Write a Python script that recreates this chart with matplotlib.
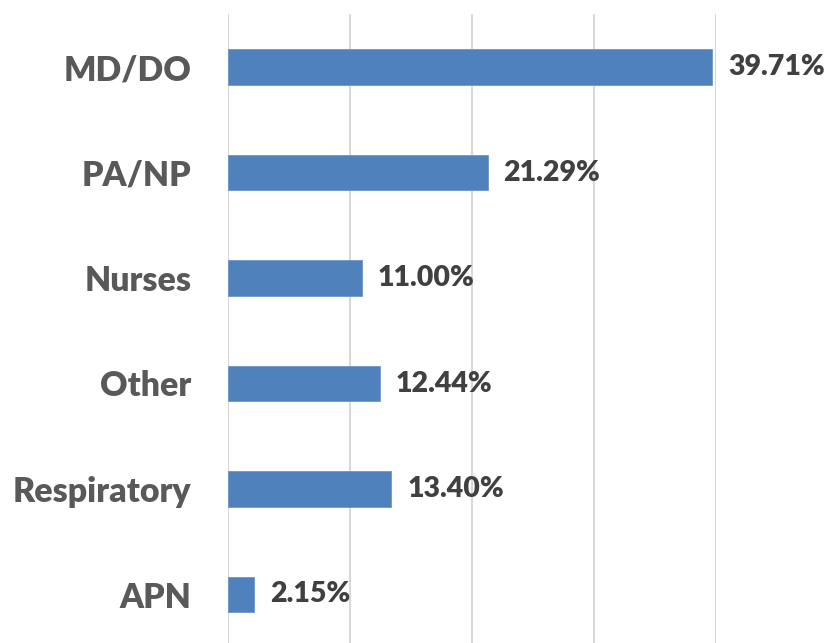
import matplotlib.pyplot as plt

categories = ["MD/DO", "PA/NP", "Nurses", "Other", "Respiratory", "APN"]
values = [39.71, 21.29, 11.00, 12.44, 13.40, 2.15]
labels = ["39.71%", "21.29%", "11.00%", "12.44%", "13.40%", "2.15%"]

plt.rcParams["font.family"] = ["Lato", "DejaVu Sans"]

fig = plt.figure(figsize=(8.3, 6.43), dpi=100)
# axes placed in pixel terms: x 228..716, y 14..647 (from top)
ax = fig.add_axes([228 / 830, 1 - 647.25 / 643, (716 - 228) / 830, (647.25 - 14.25) / 643])

pos = list(range(len(categories)))
ax.barh(pos, values, height=0.34, color="#4F81BD", edgecolor="#6E95C8", linewidth=0.6, zorder=3)
ax.set_ylim(len(categories) - 0.5, -0.5)
ax.set_xlim(0, 40)
ax.set_xticks([0, 10, 20, 30, 40])
ax.set_xticklabels([])
ax.grid(axis="x", color="#D9D9D9", linewidth=1.5, zorder=0)
ax.tick_params(length=0)
for s in ax.spines.values():
    s.set_visible(False)

ax.set_yticks(pos)
ax.set_yticklabels(categories, fontsize=24.4, fontweight="heavy", color="#595959")
ax.tick_params(axis="y", pad=26.5)

for p, v, lab in zip(pos, values, labels):
    ax.text(v + 1.3, p, lab, va="center", ha="left", fontsize=20.5,
            fontweight="heavy", color="#404040", clip_on=False)

fig.savefig("out.png", dpi=100)
